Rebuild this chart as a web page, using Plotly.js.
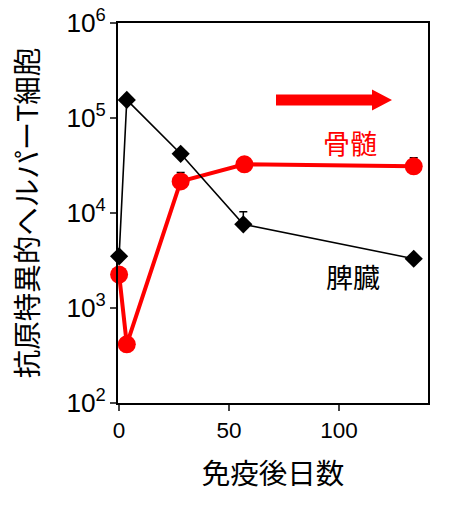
<!DOCTYPE html>
<html>
<head>
<meta charset="utf-8">
<script src="https://cdn.plot.ly/plotly-3.0.1.min.js"></script>
<style>body{margin:0;background:#fff} #chart{width:467px;height:506px}</style>
</head>
<body>
<div id="chart"></div>
<script>
// days after immunisation and cell counts
days_spleen=[0,3.5,28,56.5,134]
spleen=[3500,155000,42000,7600,3300]
spleen_err=[0,0,0,2700,0]   // upper bar only
days_marrow=[0,3.5,28,57,134]
marrow=[2250,415,21500,32500,31000]
marrow_err=[0,0,5200,0,7200]
xticks=[0,50,100]

ff='Liberation Sans, Arial, Noto Sans CJK JP, sans-serif'
jp='Noto Sans CJK JP, Liberation Sans, sans-serif'

var marrowTrace={x:days_marrow,y:marrow,type:'scatter',mode:'lines+markers',
  line:{color:'#ff0000',width:4},marker:{symbol:'circle',size:18,color:'#ff0000'},
  error_y:{type:'data',array:marrow_err,arrayminus:marrow_err.map(function(){return 0}),color:'#000',thickness:1.5,width:4},
  cliponaxis:false,hoverinfo:'x+y'}
var spleenTrace={x:days_spleen,y:spleen,type:'scatter',mode:'lines+markers',
  line:{color:'#000',width:1.6},marker:{symbol:'diamond',size:14,color:'#000'},
  error_y:{type:'data',array:spleen_err,arrayminus:spleen_err.map(function(){return 0}),color:'#000',thickness:1.5,width:4},
  cliponaxis:false,hoverinfo:'x+y'}

var layout={width:467,height:506,showlegend:false,
  margin:{l:118,r:39,t:23,b:103},
  paper_bgcolor:'#fff',plot_bgcolor:'#fff',
  font:{family:ff,color:'#000',size:21},
  xaxis:{range:[-0.5,140.5],tickvals:xticks,ticks:'outside',ticklen:6,tickwidth:2,
    showgrid:false,zeroline:false,showline:true,linewidth:2,linecolor:'#000',mirror:true,
    tickfont:{family:ff,size:22.5,color:'#000'},
    title:{text:'免疫後日数',font:{family:jp,size:28.5,color:'#000'},standoff:22}},
  yaxis:{type:'log',range:[2,6],dtick:1,exponentformat:'power',ticks:'outside',ticklen:6,tickwidth:2,
    showgrid:false,zeroline:false,showline:true,linewidth:2,linecolor:'#000',mirror:true,
    tickfont:{family:ff,size:21,color:'#000'},
    title:{text:'抗原特異的ヘルパーT細胞',font:{family:jp,size:28.5,color:'#000'},standoff:19}},
  annotations:[
    {x:105,y:4.74,xref:'x',yref:'y',text:'骨髄',showarrow:false,font:{family:jp,size:27,color:'#ff0000'}},
    {x:106.5,y:3.33,xref:'x',yref:'y',text:'脾臓',showarrow:false,font:{family:jp,size:27,color:'#000'}}
  ],
  shapes:[
    // thick red arrow pointing right
    {type:'path',xref:'paper',yref:'paper',line:{width:0},fillcolor:'#ff0000',
     path:'M0.5097,0.8118 L0.8194,0.8118 L0.8194,0.825 L0.8839,0.7974 L0.8194,0.7697 L0.8194,0.7829 L0.5097,0.7829 Z'}
  ]
}

Plotly.newPlot('chart',[marrowTrace,spleenTrace],layout,{displayModeBar:false,staticPlot:true})
</script>
</body>
</html>
